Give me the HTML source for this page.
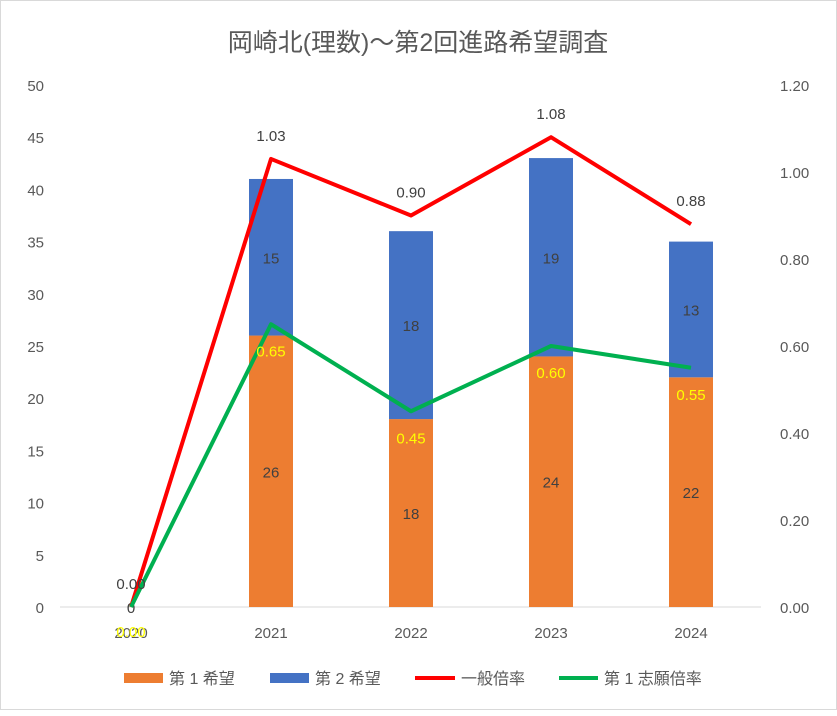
<!DOCTYPE html>
<html><head><meta charset="utf-8"><style>
body{margin:0;background:#fff}
svg text{font-family:"Liberation Sans","Noto Sans CJK JP",sans-serif}
</style></head><body>
<svg id="c" width="837" height="711" xmlns="http://www.w3.org/2000/svg">
<rect x="0.5" y="0.5" width="836" height="709" fill="#fff" stroke="#d9d9d9"/>
<text x="418" y="51" font-size="25" fill="#595959" text-anchor="middle">岡崎北(理数)～第2回進路希望調査</text>
<g id="g"></g>
<g>
<g><rect x="124" y="673" width="39" height="10" fill="#ed7d31"/><text x="169" y="684" font-size="16" fill="#595959">第 1 希望</text></g>
<g><rect x="270" y="673" width="39" height="10" fill="#4472c4"/><text x="315" y="684" font-size="16" fill="#595959">第 2 希望</text></g>
<g><line x1="415" y1="678" x2="455" y2="678" stroke="#ff0000" stroke-width="4"/><text x="461" y="684" font-size="16" fill="#595959">一般倍率</text></g>
<g><line x1="559" y1="678" x2="598" y2="678" stroke="#00b050" stroke-width="4"/><text x="604" y="684" font-size="16" fill="#595959">第 1 志願倍率</text></g>
</g>
</svg>
<script>
const categories=["2020","2021","2022","2023","2024"];
const firstChoice=[0,26,18,24,22];
const secondChoice=[0,15,18,19,13];
const generalRatio=[0,1.03,0.90,1.08,0.88];
const firstRatio=[0,0.65,0.45,0.60,0.55];
const leftTicks=[0,5,10,15,20,25,30,35,40,45,50];
const rightTicks=[0,0.2,0.4,0.6,0.8,1.0,1.2];
const NS="http://www.w3.org/2000/svg",g=document.getElementById('g');
const y0=607,yTop=85;
const yL=v=>y0-(y0-yTop)*v/50, yR=v=>y0-(y0-yTop)*v/1.2;
const xC=i=>131+140*i;
function mk(t,a,txt){const e=document.createElementNS(NS,t);for(const k in a)e.setAttribute(k,a[k]);if(txt!=null)e.textContent=txt;g.appendChild(e);return e;}
leftTicks.forEach(v=>{const e=mk('text',{x:44,y:yL(v)+6,'font-size':15,fill:'#595959','text-anchor':'end'},v);

});
rightTicks.forEach(v=>{const e=mk('text',{x:780,y:yR(v)+6,'font-size':15,fill:'#595959'},v.toFixed(2));

});
const ax=mk('line',{x1:60,x2:761,y1:y0,y2:y0,stroke:'#d9d9d9','stroke-width':1});


categories.forEach((c,i)=>{
 const t=mk('text',{x:xC(i),y:638,'font-size':15,fill:'#595959','text-anchor':'middle'},c);
 
 
 const bw=44,a=firstChoice[i],b=secondChoice[i];
 const r1=mk('rect',{x:xC(i)-bw/2,y:yL(a),width:bw,height:y0-yL(a),fill:'#ed7d31'});
 
 
 const r2=mk('rect',{x:xC(i)-bw/2,y:yL(a+b),width:bw,height:yL(a)-yL(a+b),fill:'#4472c4'});
 
 
 if(a>0){const l=mk('text',{x:xC(i),y:(yL(a)+y0)/2+6,'font-size':15,fill:'#404040','text-anchor':'middle'},a);
 
 }
 else{const l=mk('text',{x:xC(i),y:613,'font-size':15,fill:'#404040','text-anchor':'middle'},a);
 
 }
 if(b>0){const l=mk('text',{x:xC(i),y:(yL(a)+yL(a+b))/2+6,'font-size':15,fill:'#404040','text-anchor':'middle'},b);
 
 }
});
function line(arr,col,name){
 const p=mk('polyline',{points:arr.map((v,i)=>xC(i)+','+yR(v)).join(' '),fill:'none',stroke:col,'stroke-width':4,'stroke-linejoin':'round'});
 
 
}
line(generalRatio,'#ff0000','general-ratio-line');
line(firstRatio,'#00b050','first-ratio-line');
generalRatio.forEach((v,i)=>{const t=mk('text',{x:xC(i),y:yR(v)-18,'font-size':15,fill:'#404040','text-anchor':'middle'},v.toFixed(2));
 
 });
firstRatio.forEach((v,i)=>{const t=mk('text',{x:xC(i),y:i==0?637:yR(v)+32,'font-size':15,fill:'#ffff00','text-anchor':'middle'},v.toFixed(2));
 
 });
</script>
</body></html>
